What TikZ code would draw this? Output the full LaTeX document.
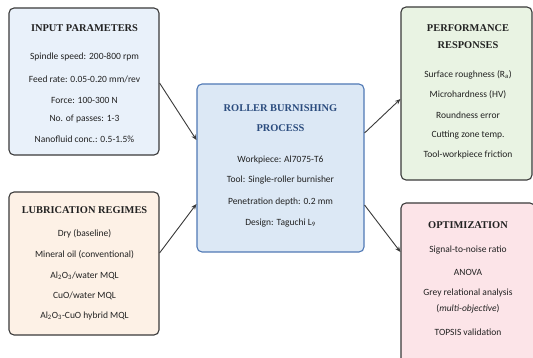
\documentclass[tikz,border=0pt]{standalone}
\usepackage{fontspec}
\setmainfont{Carlito}
\newfontfamily\titlefont{Liberation Serif}
\usetikzlibrary{arrows.meta}
\definecolor{bordergray}{HTML}{3A3A3A}
\definecolor{inpfill}{HTML}{E9F1FA}
\definecolor{lubfill}{HTML}{FDF1E6}
\definecolor{cenfill}{HTML}{DCE8F5}
\definecolor{cenborder}{HTML}{5079B5}
\definecolor{centitle}{HTML}{2B4C7E}
\definecolor{perffill}{HTML}{E9F3E3}
\definecolor{optfill}{HTML}{FCE4E8}
\definecolor{txt}{HTML}{222222}
\tikzset{
  boxstyle/.style={draw=bordergray, line width=1.1pt, rounded corners=5pt, inner sep=0pt},
  ttl/.style={font=\titlefont\bfseries\fontsize{10.4}{12}\selectfont, text=txt, inner sep=0pt},
  itm/.style={font=\fontsize{9.5}{11}\selectfont, text=txt, inner sep=0pt},
  arr/.style={draw=bordergray, line width=0.9pt, -{Stealth[length=5.5pt,width=4.5pt]}}
}
\begin{document}
\begin{tikzpicture}[x=1pt,y=-1pt]
\useasboundingbox (0,0) rectangle (533,358);
\fill[white] (0,0) rectangle (533,358);
\clip (0,0) rectangle (533,358);
% boxes
\node[boxstyle, fill=inpfill, minimum width=150pt, minimum height=147pt] (inp) at (84,81.5) {};
\node[boxstyle, fill=lubfill, minimum width=150pt, minimum height=143pt] (lub) at (84,263.5) {};
\node[boxstyle, draw=cenborder, fill=cenfill, minimum width=167pt, minimum height=168pt] (cen) at (280.5,168) {};
\node[boxstyle, fill=perffill, minimum width=131pt, minimum height=173pt] (perf) at (466.5,93.5) {};
\node[boxstyle, fill=optfill, minimum width=134pt, minimum height=160pt] (opt) at (468,283) {};
% input texts
\node[ttl] (inpt) at (84.5,28) {INPUT PARAMETERS};
\node[itm] (i1) at (84.5,57) {Spindle speed: 200-800 rpm};
\node[itm] (i2) at (84.5,79) {Feed rate: 0.05-0.20 mm/rev};
\node[itm] (i3) at (84.5,100) {Force: 100-300 N};
\node[itm] (i4) at (84.5,119.5) {No. of passes: 1-3};
\node[itm] (i5) at (84.5,139.5) {Nanofluid conc.: 0.5-1.5\%};
% lubrication texts
\node[ttl] (lubt) at (84.5,210) {LUBRICATION REGIMES};
\node[itm] (l1) at (84.5,234) {Dry (baseline)};
\node[itm] (l2) at (84.5,254.5) {Mineral oil (conventional)};
\node[itm] (l3) at (84.5,275.5) {Al\textsubscript{2}O\textsubscript{3}/water MQL};
\node[itm] (l4) at (84.5,296) {CuO/water MQL};
\node[itm] (l5) at (84.5,316) {Al\textsubscript{2}O\textsubscript{3}-CuO hybrid MQL};
% center texts
\node[ttl, text=centitle] (cent1) at (280.5,108) {ROLLER BURNISHING};
\node[ttl, text=centitle] (cent2) at (280.5,128) {PROCESS};
\node[itm] (c1) at (280.5,160) {Workpiece: Al7075-T6};
\node[itm] (c2) at (280.5,180) {Tool: Single-roller burnisher};
\node[itm] (c3) at (280.5,202) {Penetration depth: 0.2 mm};
\node[itm] (c4) at (280.5,223) {Design: Taguchi L\textsubscript{9}};
% performance texts
\node[ttl] (perft1) at (468,28) {PERFORMANCE};
\node[ttl] (perft2) at (468,45) {RESPONSES};
\node[itm] (p1) at (468,75) {Surface roughness (R\textsubscript{a})};
\node[itm] (p2) at (468,95) {Microhardness (HV)};
\node[itm] (p3) at (468,115) {Roundness error};
\node[itm] (p4) at (468,135) {Cutting zone temp.};
\node[itm] (p5) at (468,155) {Tool-workpiece friction};
% optimization texts
\node[ttl] (optt) at (468,225) {OPTIMIZATION};
\node[itm] (o1) at (468,250) {Signal-to-noise ratio};
\node[itm] (o2) at (468,272) {ANOVA};
\node[itm] (o3) at (468,292.5) {Grey relational analysis};
\node[itm] (o4) at (468,309) {(\textit{multi-objective})};
\node[itm] (o5) at (468,332) {TOPSIS validation};
% arrows
\draw[arr] ([yshift=-1.5pt]inp.east) -- ([yshift=28pt]cen.west);
\draw[arr] ([yshift=10.5pt]lub.east) -- ([yshift=-36pt]cen.west);
\draw[arr] ([yshift=35pt]cen.east) -- ([yshift=-5.5pt]perf.west);
\draw[arr] ([yshift=-37pt]cen.east) -- ([yshift=31pt]opt.west);
\end{tikzpicture}
\end{document}
